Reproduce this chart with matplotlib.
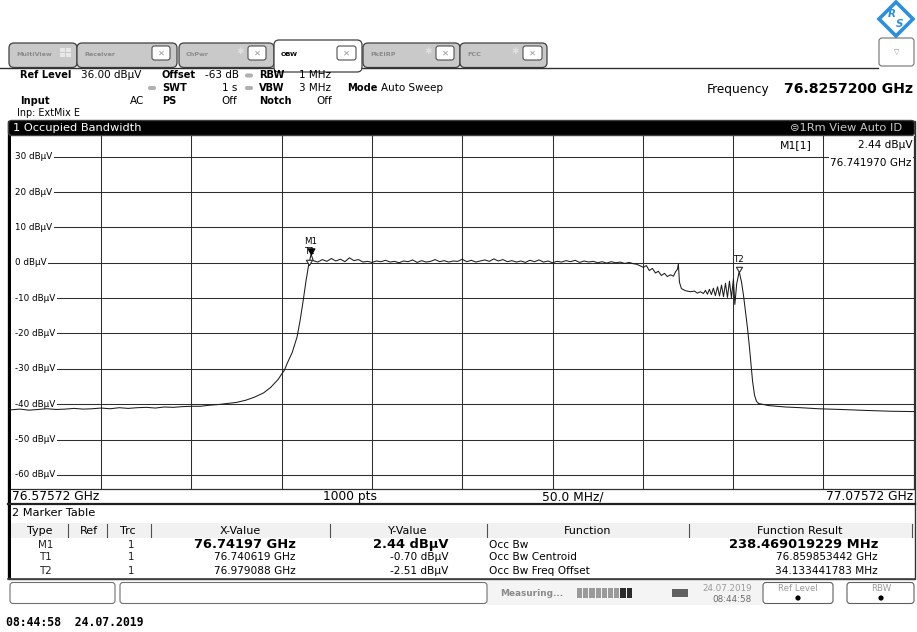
import matplotlib
matplotlib.use('Agg')
import matplotlib.pyplot as plt
import matplotlib.transforms as mtransforms
from matplotlib.patches import Rectangle, FancyBboxPatch, Polygon, Circle
from matplotlib.path import Path
from matplotlib.markers import MarkerStyle

# ---------------- data ----------------
start_ghz = 76.57572
stop_ghz = 77.07572
center_ghz = 76.8257200
span_div_mhz = 50.0
ref_level = 36.0
db_per_div = 10.0
y_tick_levels = [30, 20, 10, 0, -10, -20, -30, -40, -50, -60]

# trace: frequency offset from start (MHz) and level (dBuV)
trace_offset_mhz = [
    0, 5, 10, 15, 20, 25, 30, 35, 40, 45, 50, 55, 60, 65, 70, 75, 80, 85, 90, 95,
    100, 105, 110, 115, 120, 125, 130, 135, 140, 144, 148, 150.2, 151.5, 153.0,
    155.8, 158.5, 160.2, 161.9, 163.5, 164.9, 166.25,
    167.5, 170, 172.5, 175, 177.5, 180, 182.5, 185, 187.5, 190,
    192.5, 195, 197.5, 200, 202.5, 205, 207.5, 210, 212.5, 215,
    217.5, 220, 222.5, 225, 227.5, 230, 232.5, 235, 237.5, 240,
    242.5, 245, 247.5, 250, 252.5, 255, 257.5, 260, 262.5, 265,
    267.5, 270, 272.5, 275, 277.5, 280, 282.5, 285, 287.5, 290,
    292.5, 295, 297.5, 300, 302.5, 305, 307.5, 310, 312.5, 315,
    317.5, 320, 322.5, 325, 327.5, 330, 332.5, 335, 337.5, 340,
    342.5, 345,
    346.5, 348.7, 350.3, 352.0, 353.6, 355.3, 357.0, 358.6, 360.3, 362.0,
    363.6, 365.3, 367.0, 368.1, 369.2, 369.7, 370.3, 371.4, 373.6, 376.4,
    378.6, 380.2, 381.9, 383.6, 384.7, 385.8, 386.9, 388.0, 389.1, 390.2,
    391.4, 392.5, 393.6, 394.7, 395.8, 396.9, 398.0, 399.1, 400.2, 401.0,
    402.0, 403.4, 404.7, 405.8, 406.9, 408.0, 409.1, 410.2, 410.8, 411.9,
    413.0, 414.1, 419.6, 429.0, 437.4, 447.3, 459.5, 475.0, 487.3, 500.0,
]
trace_level_dbuv = [
    -41.6, -41.4, -41.7, -41.5, -41.3, -41.5, -41.4, -41.2, -41.4, -41.3,
    -41.1, -41.3, -41.0, -41.2, -41.0, -40.9, -41.1, -40.8, -40.9, -40.7,
    -40.6, -40.6, -40.3, -40.1, -39.8, -39.5, -38.9, -38.0, -36.8, -35.2,
    -33.0, -31.3, -30.4, -28.5, -25.4, -21.0, -16.3, -10.7, -5.0, -0.7, 2.44,
    0.6, 0.2, 0.9, 0.4, 1.2, 0.5, 1.0, 0.3, 1.4, 0.6,
    0.9, 0.2, 0.4, 0.1, 0.5, 0.3, 0.7, 0.2, 0.4, 0.0,
    0.5, 0.3, 0.8, 0.1, 0.6, 0.2, 0.4, 0.9, 0.3, 0.6,
    0.2, 0.5, 0.4, 1.0, 0.3, 0.7, 0.2, 0.5, 0.8, 0.4,
    1.1, 0.5, 0.9, 0.3, 0.6, 0.2, 0.5, 0.1, 0.7, 0.3,
    0.8, 0.2, 0.5, 0.0, 0.4, 0.2, 0.6, 0.3, 0.7, 0.1,
    0.5, 0.2, 0.4, 0.0, 0.3, -0.1, 0.3, 0.0, 0.2, -0.2,
    0.1, -0.3,
    -0.4, -0.9, -1.3, -0.8, -2.2, -1.6, -2.9, -2.4, -3.6, -3.0,
    -3.9, -3.4, -3.8, -2.6, -1.8, -0.3, -5.5, -7.3, -7.9, -8.2,
    -8.0, -8.6, -8.2, -8.7, -7.8, -8.9, -7.5, -9.0, -7.2, -9.3,
    -6.8, -9.4, -6.3, -9.6, -5.8, -9.8, -5.2, -9.9, -4.6, -11.8,
    -6.0, -2.5, -5.5, -9.3, -14.0, -18.5, -24.0, -30.0, -33.5, -37.5,
    -39.2, -39.8, -40.4, -40.8, -41.0, -41.3, -41.5, -41.8, -42.0, -42.1,
]

marker_names = ["M1", "T1", "T2"]
marker_freq_ghz = [76.74197, 76.740619, 76.979088]
marker_level_dbuv = [2.44, -0.70, -2.51]
marker_x_text = ["76.74197 GHz", "76.740619 GHz", "76.979088 GHz"]
marker_y_text = ["2.44 dBµV", "-0.70 dBµV", "-2.51 dBµV"]
function_names = ["Occ Bw", "Occ Bw Centroid", "Occ Bw Freq Offset"]
function_results = ["238.469019229 MHz", "76.859853442 GHz", "34.133441783 MHz"]

tab_names = ["MultiView", "Receiver", "ChPwr", "OBW", "PkEIRP", "FCC"]

# ---------------- figure ----------------
W, H = 917, 632
fig = plt.figure(figsize=(W / 100, H / 100), dpi=100)
fig.patch.set_facecolor('white')
FONT = 'DejaVu Sans'

bg = fig.add_axes([0, 0, 1, 1], zorder=0)
bg.set_xlim(0, W); bg.set_ylim(H, 0); bg.axis('off')
top = fig.add_axes([0, 0, 1, 1], zorder=5)
top.set_xlim(0, W); top.set_ylim(H, 0); top.axis('off')
top.patch.set_alpha(0)


def txt(x, y, s, size=7.5, weight='normal', color='black', ha='left', va='center',
        family=FONT, a=top, **kw):
    return a.text(x, y, s, fontsize=size, fontweight=weight, color=color, ha=ha,
                  va=va, family=family, **kw)


def rbox(x0, y0, x1, y1, fc='white', ec='#606060', lw=0.8, r=3, a=bg, z=1):
    p = FancyBboxPatch((x0, y0), x1 - x0, y1 - y0,
                       boxstyle="round,pad=0,rounding_size=%g" % r,
                       fc=fc, ec=ec, lw=lw, zorder=z)
    a.add_patch(p)
    return p


# --- R&S logo ---
cx, cy = 896, 19
dia = Polygon([(cx, cy - 17), (cx + 17, cy), (cx, cy + 17), (cx - 17, cy)],
              closed=True, fc='white', ec='#2b8fe0', lw=2.6, zorder=2)
bg.add_patch(dia)
txt(cx - 4, cy - 5, "R", size=7.5, weight='bold', color='#2b8fe0', ha='center', style='italic')
txt(cx + 4, cy + 5, "S", size=7.5, weight='bold', color='#2b8fe0', ha='center', style='italic')

# --- tabs ---
bg.plot([0, 878], [67.5, 67.5], color='#303030', lw=1.0, zorder=3)
tabs = [(9, 77), (77, 177), (179, 274), (274, 362), (363, 460), (460, 547)]
xbtn = [None, (152, 170), (248, 266), (337, 356), (436, 454), (523, 542)]
for i, (name, (x0, x1)) in enumerate(zip(tab_names, tabs)):
    active = (name == "OBW")
    y0 = 40 if active else 43
    rbox(x0, y0, x1, 72 if active else 67.5, fc='white' if active else '#c9c9c9',
         ec='#404040', lw=0.9, r=5, z=4 if active else 2)
    txt(x0 + 7, 55, name, size=4.6, weight='bold',
        color='black' if active else '#8a8a8a', a=bg, zorder=6)
    if xbtn[i] is not None:
        bx0, bx1 = xbtn[i]
        rbox(bx0, 46, bx1, 60, fc='white', ec='#505050', lw=0.8, r=2.5, z=6)
        txt((bx0 + bx1) / 2, 53, "✕", size=6, color='#9a9a9a', ha='center', a=bg, zorder=7)
        if name not in ("Receiver", "OBW"):
            txt(bx0 - 8, 52, "✱", size=6.5, color='#e0e0e0', ha='center', a=bg, zorder=7)
    else:
        for dx in (0, 6):
            for dy in (0, 5):
                bg.add_patch(Rectangle((60 + dx, 48 + dy), 5, 4, fc='#e8e8e8', ec='none', zorder=6))
# OBW tab covers baseline
bg.add_patch(Rectangle((275, 66), 86, 4, fc='white', ec='none', zorder=5))

# dropdown
rbox(879, 38, 914, 66, fc='white', ec='#707070', lw=0.8, r=3, z=2)
txt(896.5, 52, "▽", size=5, color='#909090', ha='center', a=bg, zorder=3)

# --- settings header ---
r1, r2, r3, r4 = 75.5, 88, 100.5, 113.5
BS = 7.1
txt(20.5, r1, "Ref Level", size=BS, weight='bold')
txt(81, r1, "36.00 dBµV", size=7.5)
txt(162, r1, "Offset", size=BS, weight='bold')
txt(239, r1, "-63 dB", size=7.5, ha='right')
txt(259, r1, "RBW", size=BS, weight='bold')
txt(299, r1, "1 MHz", size=7.5)
txt(162, r2, "SWT", size=BS, weight='bold')
txt(237, r2, "1 s", size=7.5, ha='right')
txt(259, r2, "VBW", size=BS, weight='bold')
txt(299, r2, "3 MHz", size=7.5)
txt(347, r2, "Mode", size=BS, weight='bold')
txt(381, r2, "Auto Sweep", size=7.5)
txt(20.5, r3, "Input", size=BS, weight='bold')
txt(144, r3, "AC", size=7.5, ha='right')
txt(162, r3, "PS", size=BS, weight='bold')
txt(237, r3, "Off", size=7.5, ha='right')
txt(259, r3, "Notch", size=BS, weight='bold')
txt(332, r3, "Off", size=7.5, ha='right')
txt(17, r4, "Inp: ExtMix E", size=6.9)
for (dx, dy) in [(249, r1), (152, r2), (249, r2)]:
    bg.add_patch(FancyBboxPatch((dx - 4, dy - 2), 8, 4, boxstyle="round,pad=0,rounding_size=2",
                                fc='#b0b0b0', ec='none', zorder=3))
txt(707, 89, "Frequency", size=8.7)
txt(913, 89, "%.7f GHz" % center_ghz, size=10.1, weight='bold', ha='right')

# --- window frame ---
WY0 = 120.5
bg.add_patch(Rectangle((8, WY0), 907, 579 - WY0, fc='white', ec='#303030', lw=1.0, zorder=1))
bg.add_patch(Rectangle((8, WY0), 3.2, 579 - WY0, fc='black', ec='none', zorder=6))
rbox(8.5, WY0, 914.5, 135.5, fc='black', ec='#404040', lw=1.0, r=3, a=top, z=1)
txt(13, 128, "1 Occupied Bandwidth", size=8.2, color='white', zorder=3)
txt(902, 128, "⊜1Rm View Auto ID", size=8.2, color='#c8c8c8', ha='right', zorder=3)

# --- plot axes ---
PX0, PX1, PY0, PY1 = 10.9, 913.6, 135.5, 489.0
ax = fig.add_axes([PX0 / W, 1 - PY1 / H, (PX1 - PX0) / W, (PY1 - PY0) / H], zorder=2)
ax.set_xlim(start_ghz, stop_ghz)
ax.set_ylim(ref_level - 10 * db_per_div, ref_level)
ax.set_xticks([]); ax.set_yticks([])
for s in ax.spines.values():
    s.set_color('#303030'); s.set_linewidth(0.9)
ax.spines['top'].set_visible(False)
ax.spines['left'].set_visible(False)

grid_c = '#2e2e2e'
ndiv = int(round((stop_ghz - start_ghz) * 1000 / span_div_mhz))
for k in range(1, ndiv):
    ax.axvline(start_ghz + k * span_div_mhz / 1000, color=grid_c, lw=0.75, zorder=1)
yl_tr = mtransforms.blended_transform_factory(ax.transAxes, ax.transData)
ax.add_patch(Rectangle((0, 0), 4.5 / (PX1 - PX0), 1, transform=ax.transAxes,
                       fc='white', ec='none', zorder=1.5))
for lv in y_tick_levels:
    ax.axhline(lv, color=grid_c, lw=0.75, zorder=1)
    ax.text(4.3 / (PX1 - PX0), lv, "%d dBµV" % lv, transform=yl_tr, fontsize=6.3, family=FONT,
            ha='left', va='center', zorder=2,
            bbox=dict(boxstyle='square,pad=0.15', fc='white', ec='none'))

tr_f = [start_ghz + o / 1000.0 for o in trace_offset_mhz]
ax.plot(tr_f, trace_level_dbuv, color='#1c1c1c', lw=0.75, zorder=4)

# markers (tip of the triangle on the trace point)
tri = Path([(-1, 1.7), (1, 1.7), (0, 0), (-1, 1.7)], closed=True)
ms_tri = MarkerStyle(tri)
for name, f, lv in zip(marker_names, marker_freq_ghz, marker_level_dbuv):
    if name.startswith("M"):
        ax.plot([f], [lv], marker=ms_tri, ms=8, color='black', mfc='black', zorder=7)
    else:
        ax.plot([f], [lv], marker=ms_tri, ms=7.5, color='#303030', mfc='white', mew=0.8, zorder=6)
pt = lambda p: p * 72 / 100.0
ax.annotate("M1", (marker_freq_ghz[0], marker_level_dbuv[0]), xytext=(0, pt(13)),
            textcoords='offset points', fontsize=6.2, family=FONT, ha='center', va='center', zorder=8)
ax.annotate("T1", (marker_freq_ghz[0], marker_level_dbuv[0]), xytext=(pt(-1), pt(3)),
            textcoords='offset points', fontsize=6.2, family=FONT, ha='center', va='center', zorder=5)
ax.annotate("T2", (marker_freq_ghz[2], marker_level_dbuv[2]), xytext=(0, pt(12)),
            textcoords='offset points', fontsize=6.2, family=FONT, ha='center', va='center', zorder=8)

# marker info at top right
txt(780, 145, "M1[1]", size=7.8, zorder=6)
txt(912, 145, marker_y_text[0], size=7.6, ha='right', zorder=6)
txt(912, 163, "%.6f GHz" % marker_freq_ghz[0], size=7.6, ha='right', zorder=6,
    bbox=dict(boxstyle='square,pad=0.1', fc='white', ec='none'))

# --- frequency label row ---
top.plot([8, 915], [503.8, 503.8], color='#202020', lw=1.6, zorder=2)
FS = 8.8
txt(12, 496.5, "%.5f GHz" % start_ghz, size=FS)
txt(350, 496.5, "1000 pts", size=FS, ha='center')
txt(573, 496.5, "%.1f MHz/" % span_div_mhz, size=FS, ha='center')
txt(913, 496.5, "%.5f GHz" % stop_ghz, size=FS, ha='right')

# --- marker table ---
txt(12, 513, "2 Marker Table", size=8.2)
bg.add_patch(Rectangle((11, 523), 903, 15, fc='#f1f1f1', ec='none', zorder=2))
hy = 531
for s, xc in [("Type", 40), ("Ref", 89), ("Trc", 128), ("X-Value", 240), ("Y-Value", 408),
              ("Function", 588), ("Function Result", 800)]:
    txt(xc, hy, s, size=8.0, ha='center')
for xs in [68, 107, 151, 330, 487, 689, 912]:
    top.plot([xs, xs], [524, 537], color='#505050', lw=0.8)
row_y = [544.5, 557.5, 570.5]
for i in range(3):
    y = row_y[i]
    bold = (i == 0)
    txt(45.5, y, marker_names[i], size=7.4, ha='center', color='#202020')
    txt(131, y, "1", size=7.4, ha='center', color='#202020')
    txt(296, y, marker_x_text[i], size=9.4 if bold else 7.6, weight='bold' if bold else 'normal', ha='right')
    txt(448, y, marker_y_text[i], size=9.4 if bold else 7.6, weight='bold' if bold else 'normal', ha='right')
    txt(489, y, function_names[i], size=7.6)
    txt(878, y, function_results[i], size=9.4 if bold else 7.6, weight='bold' if bold else 'normal', ha='right')
top.plot([8, 915], [578.5, 578.5], color='#404040', lw=1.2, zorder=2)

# --- status bar ---
bg.add_patch(Rectangle((487, 581), 275, 24, fc='#f4f4f4', ec='none', zorder=1))
rbox(10, 582.5, 115, 603.5, fc='white', ec='#707070', lw=0.8, r=3, z=2)
rbox(120, 582.5, 487, 603.5, fc='white', ec='#707070', lw=0.8, r=3, z=2)
txt(500, 593, "Measuring...", size=6.4, weight='bold', color='#8a8a8a')
for k in range(9):
    x0 = 577 + k * 6.2
    c = '#9a9a9a' if k < 7 else '#2a2a2a'
    bg.add_patch(Rectangle((x0, 588), 5.2, 10, fc=c, ec='none', zorder=3))
bg.add_patch(Rectangle((672, 589), 16, 8, fc='#606060', ec='none', zorder=3))
txt(752, 588.5, "24.07.2019", size=6.3, color='#9a9a9a', ha='right')
txt(752, 599, "08:44:58", size=6.3, color='#6a6a6a', ha='right')
rbox(763, 582.5, 833, 603.5, fc='white', ec='#606060', lw=0.8, r=3, z=2)
rbox(847, 582.5, 914, 603.5, fc='white', ec='#606060', lw=0.8, r=3, z=2)
txt(798, 588.5, "Ref Level", size=6.2, color='#9a9a9a', ha='center')
txt(881, 588.5, "RBW", size=6.2, color='#9a9a9a', ha='center')
bg.add_patch(Circle((798, 598), 2.6, fc='black', ec='none', zorder=3))
bg.add_patch(Circle((881, 598), 2.6, fc='black', ec='none', zorder=3))

# --- timestamp ---
txt(6, 623, "08:44:58  24.07.2019", size=8.3, weight='bold', family='DejaVu Sans Mono')

fig.savefig('out.png', dpi=100, facecolor='white')
